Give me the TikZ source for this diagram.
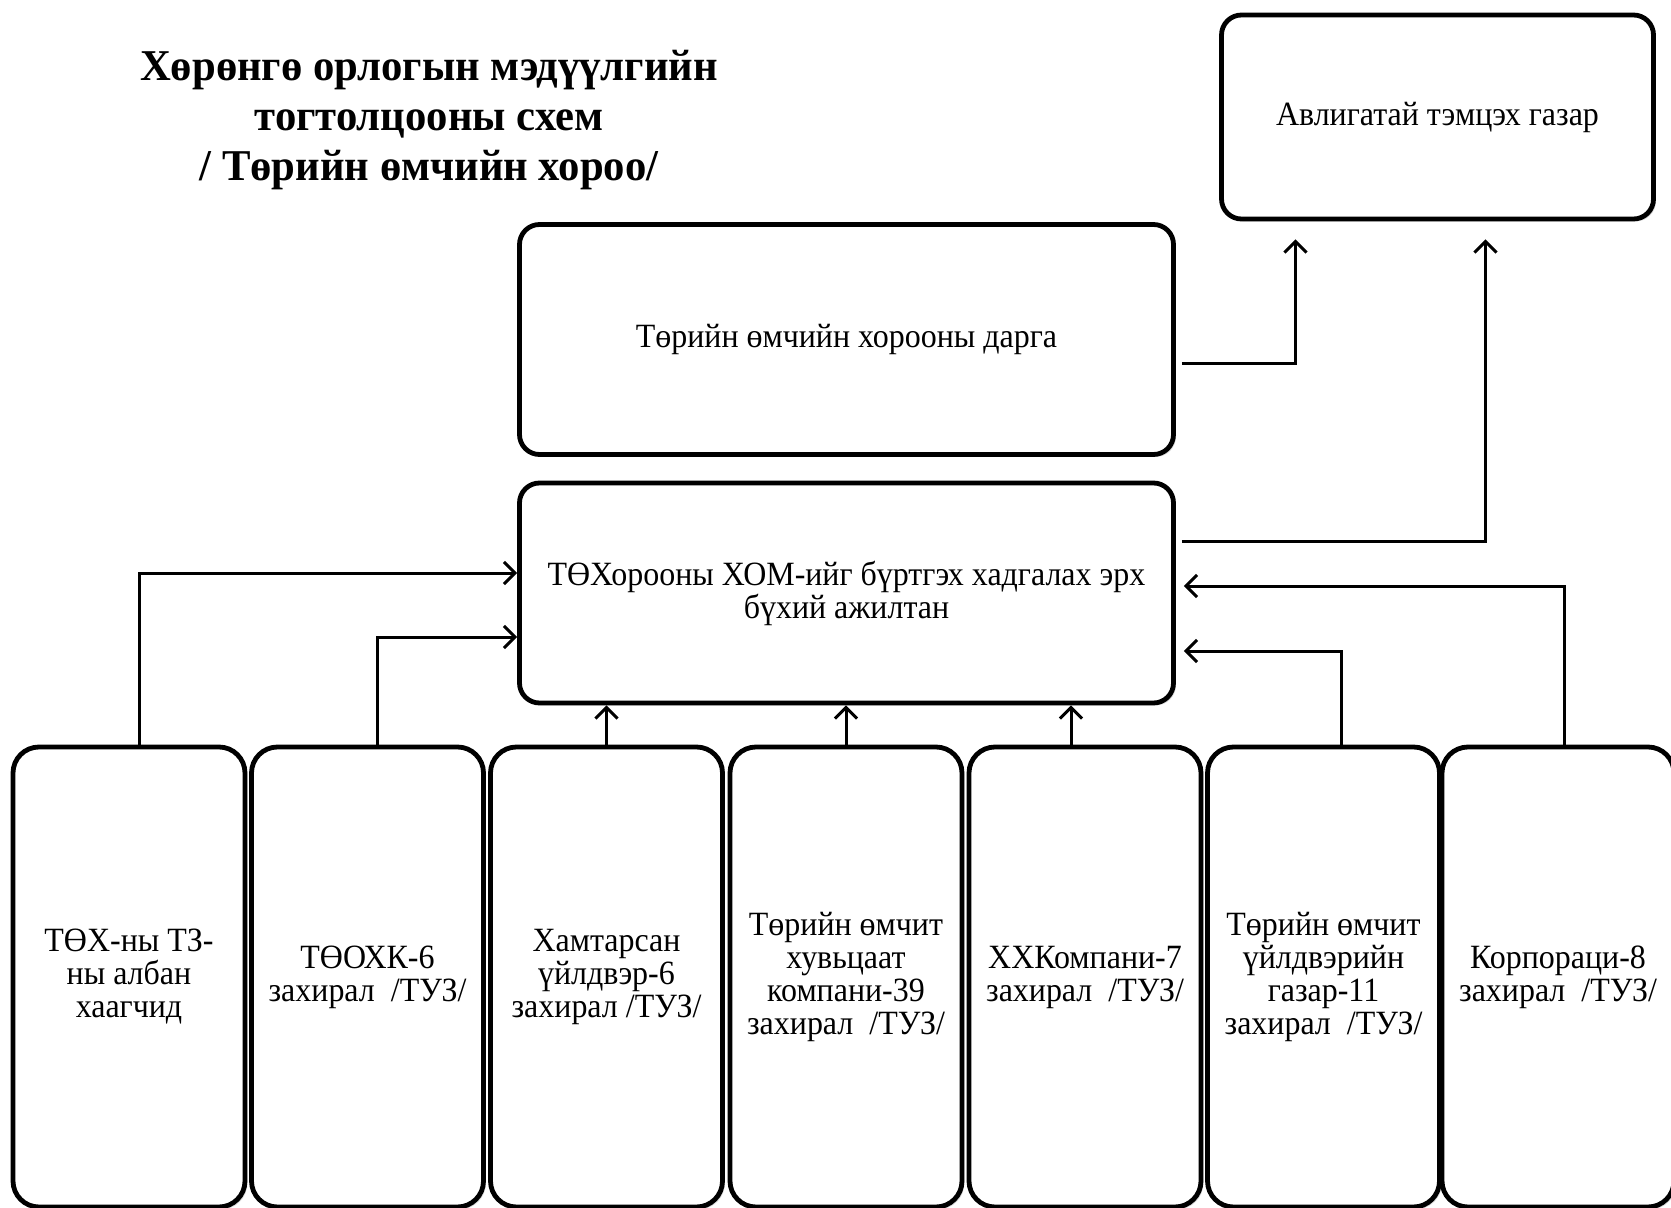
\documentclass[tikz,border=0pt]{standalone}
\usepackage{fontspec}
\setmainfont{Liberation Serif}[FakeStretch=0.94]
\newfontfamily\titlefont{Liberation Serif}[FakeStretch=0.97]
\usetikzlibrary{arrows.meta, calc, shadows}

\begin{document}
\begin{tikzpicture}[x=0.5pt, y=-0.5pt,
  box/.style={draw, line width=2.4pt, rounded corners=10pt, fill=white, align=center,
    font=\fontsize{17}{16.5}\selectfont,
    drop shadow={shadow xshift=1.2pt, shadow yshift=-1.2pt, opacity=0.3}},
  tallbox/.style={box, rounded corners=13pt, minimum width=116pt, minimum height=230pt},
  conn/.style={line width=1.5pt, -{Straight Barb[length=5.5pt, width=11pt, line width=1.5pt]}}]
  \useasboundingbox (0,0) rectangle (1671,1208);
  % title
  \node[align=center, font=\titlefont\fontsize{22}{25}\selectfont\bfseries] (title) at (429,120)
    {Хөрөнгө орлогын мэдүүлгийн\\тогтолцооны схем\\/ Төрийн өмчийн хороо/};
  % upper boxes
  \node[box, minimum width=216pt, minimum height=102pt] (atg) at (1437.5,117) {Авлигатай тэмцэх газар};
  \node[box, minimum width=327pt, minimum height=115pt] (darga) at (846.5,339.5) {Төрийн өмчийн хорооны дарга};
  \node[box, minimum width=327pt, minimum height=110pt] (burtgel) at (846.5,593)
    {ТӨХорооны ХОМ-ийг бүртгэх хадгалах эрх\\бүхий ажилтан};
  % bottom row
  \node[tallbox] (b1) at (129,977) {ТӨХ-ны ТЗ-\\ны албан\\хаагчид};
  \node[tallbox] (b2) at (367.5,977) {ТӨОХК-6\\захирал~ /ТУЗ/};
  \node[tallbox] (b3) at (606.5,977) {Хамтарсан\\үйлдвэр-6\\захирал /ТУЗ/};
  \node[tallbox] (b4) at (846,977) {Төрийн өмчит\\хувьцаат\\компани-39\\захирал~ /ТУЗ/};
  \node[tallbox] (b5) at (1085,977) {ХХКомпани-7\\захирал~ /ТУЗ/};
  \node[tallbox] (b6) at (1323.5,977) {Төрийн өмчит\\үйлдвэрийн\\газар-11\\захирал~ /ТУЗ/};
  \node[tallbox] (b7) at (1558,977) {Корпораци-8\\захирал~ /ТУЗ/};
  % to the registry
  \draw[conn] ([xshift=5pt]b1.north) |- ([yshift=10pt]burtgel.west);
  \draw[conn] ([xshift=5pt]b2.north) |- ([yshift=-22pt]burtgel.west);
  \draw[conn] (b3.north) -- (b3.north |- burtgel.south);
  \draw[conn] (b4.north) -- (b4.north |- burtgel.south);
  \draw[conn] ([xshift=-7pt]b5.north) coordinate (s5) -- (s5 |- burtgel.south);
  \draw[conn, shorten >=4pt] ([xshift=9pt]b6.north) |- ([yshift=-29pt]burtgel.east);
  \draw[conn, shorten >=4pt] ([xshift=3pt]b7.north) |- ([yshift=3.5pt]burtgel.east);
  % to the anti-corruption agency
  \draw[conn, shorten <=3pt, shorten >=9pt] ([yshift=26pt]burtgel.east) -| ([xshift=24pt]atg.south);
  \draw[conn, shorten <=3pt, shorten >=9pt] ([yshift=-12pt]darga.east) -| ([xshift=-71pt]atg.south);
\end{tikzpicture}
\end{document}
